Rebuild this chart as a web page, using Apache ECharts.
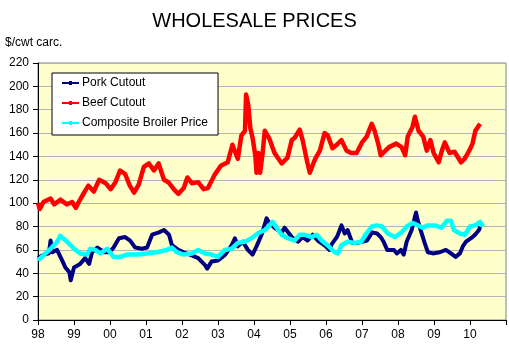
<!DOCTYPE html>
<html><head><meta charset="utf-8">
<script src="https://cdn.jsdelivr.net/npm/echarts@6/dist/echarts.min.js"></script>
<style>html,body{margin:0;padding:0;background:#fff}#c{width:509px;height:357px}</style>
</head><body><div id="c"></div>
<script>
var title = 'WHOLESALE PRICES';
var yAxisTitle = '$/cwt carc.';
var seriesNames = ['Pork Cutout', 'Beef Cutout', 'Composite Broiler Price'];
var yTicks = [0, 20, 40, 60, 80, 100, 120, 140, 160, 180, 200, 220];
var xTickYears = [1998, 1999, 2000, 2001, 2002, 2003, 2004, 2005, 2006, 2007, 2008, 2009, 2010];

var beefYears = [1998.00,1998.05,1998.15,1998.35,1998.45,1998.62,1998.8,1998.95,1999.05,1999.15,1999.3,1999.4,1999.55,1999.7,1999.88,2000.02,2000.15,2000.28,2000.42,2000.55,2000.67,2000.8,2000.94,2001.08,2001.22,2001.35,2001.5,2001.62,2001.8,2001.9,2002.05,2002.15,2002.28,2002.45,2002.6,2002.72,2002.9,2003.08,2003.27,2003.4,2003.55,2003.65,2003.75,2003.78,2003.84,2003.9,2003.96,2004.04,2004.07,2004.12,2004.17,2004.24,2004.3,2004.43,2004.57,2004.77,2004.93,2005.05,2005.13,2005.27,2005.35,2005.48,2005.55,2005.7,2005.83,2005.96,2006.05,2006.18,2006.3,2006.43,2006.57,2006.7,2006.85,2007.0,2007.13,2007.27,2007.35,2007.45,2007.52,2007.65,2007.75,2007.95,2008.1,2008.2,2008.27,2008.4,2008.47,2008.57,2008.7,2008.8,2008.9,2008.99,2009.13,2009.22,2009.3,2009.43,2009.57,2009.75,2009.85,2009.98,2010.07,2010.15,2010.28];
var beefValues = [100,95,101,104,99,103,99,101,96,102,110,115,110,120,117,112,118,128,125,115,109,116,131,134,128,134,120,118,111,108,113,122,117,118,112,113,124,132,135,150,138,158,162,193,184,164,156,140,126,143,126,143,162,155,143,134,139,154,156,163,154,135,126,138,145,160,158,147,150,154,145,143,143,152,157,168,162,151,141,145,148,151,148,141,157,165,174,162,157,145,154,143,135,145,152,143,144,135,138,145,151,162,168];

var porkYears = [1998.0,1998.17,1998.3,1998.35,1998.4,1998.53,1998.67,1998.76,1998.87,1998.91,1999.0,1999.17,1999.31,1999.42,1999.5,1999.65,1999.84,1999.98,2000.1,2000.25,2000.42,2000.56,2000.7,2000.89,2001.03,2001.17,2001.36,2001.5,2001.64,2001.72,2001.9,2002.05,2002.22,2002.45,2002.64,2002.7,2002.82,2003.0,2003.2,2003.38,2003.47,2003.55,2003.69,2003.83,2003.96,2004.07,2004.21,2004.35,2004.43,2004.57,2004.77,2004.85,2005.05,2005.22,2005.35,2005.49,2005.63,2005.77,2005.96,2006.1,2006.16,2006.3,2006.33,2006.43,2006.52,2006.6,2006.73,2006.87,2007.0,2007.14,2007.28,2007.42,2007.52,2007.6,2007.7,2007.89,2007.97,2008.08,2008.16,2008.24,2008.38,2008.5,2008.55,2008.63,2008.74,2008.83,2008.97,2009.16,2009.33,2009.47,2009.6,2009.72,2009.8,2009.89,2010.03,2010.14,2010.25,2010.28];
var porkValues = [53,56,57,68,58,60,51,45,41,34,45,48,53,48,58,62,58,58,62,70,71,68,62,61,62,73,75,77,73,64,60,58,56,53,47,44,50,51,56,64,70,63,67,60,56,63,73,87,83,79,75,79,71,67,71,68,73,68,64,60,65,71,73,81,74,77,66,66,67,68,75,74,71,67,60,60,57,60,56,67,77,92,85,77,66,58,57,58,60,57,54,57,63,67,70,73,77,80];

var broilerYears = [1998.0,1998.17,1998.35,1998.53,1998.62,1998.81,1999.0,1999.17,1999.36,1999.45,1999.59,1999.73,1999.92,2000.1,2000.28,2000.47,2000.75,2001.03,2001.3,2001.58,2001.72,2001.86,2002.05,2002.28,2002.45,2002.64,2002.82,2003.0,2003.19,2003.38,2003.55,2003.74,2003.93,2004.1,2004.3,2004.43,2004.52,2004.63,2004.77,2004.93,2005.13,2005.27,2005.4,2005.6,2005.74,2005.88,2006.04,2006.24,2006.33,2006.43,2006.6,2006.79,2006.98,2007.12,2007.27,2007.41,2007.55,2007.72,2007.91,2008.1,2008.24,2008.41,2008.55,2008.69,2008.83,2009.02,2009.2,2009.36,2009.47,2009.55,2009.72,2009.86,2010.0,2010.14,2010.28,2010.36];
var broilerValues = [51,56,61,67,72,67,61,57,56,61,60,57,61,54,54,56,56,57,58,60,62,58,56,57,60,57,56,54,60,61,66,67,70,74,77,81,84,79,73,70,68,73,73,71,73,68,64,58,57,64,67,66,67,74,80,81,80,74,71,75,80,83,81,79,81,81,79,85,85,77,74,73,80,81,84,80];

function pairs(xs, ys) { return xs.map(function (x, i) { return [x, ys[i]]; }); }

var chart = echarts.init(document.getElementById('c'), null, {renderer: 'canvas'});
var font = 'Arial, "Liberation Sans", sans-serif';
chart.setOption({
  animation: false,
  backgroundColor: '#ffffff',
  textStyle: {fontFamily: font},
  title: {text: title, left: 'center', top: 6, textStyle: {fontSize: 20, fontWeight: 'normal', color: '#000', fontFamily: font}},
  graphic: [{type: 'text', left: 5, top: 37, style: {text: yAxisTitle, fontSize: 12, fill: '#000', fontFamily: font}}],
  legend: {
    orient: 'vertical', left: 52, top: 73, width: 168,
    padding: [3, 10, 5, 10], itemGap: 6, itemWidth: 17, itemHeight: 14,
    backgroundColor: '#ffffff', borderColor: '#000', borderWidth: 1, borderRadius: 0,
    textStyle: {fontSize: 12, color: '#000', fontFamily: font, padding: [0, 0, 0, -2], lineHeight: 14},
    data: seriesNames.map(function (n, i) {
      var c = ['#000080', '#FF0000', '#00FFFF'][i];
      return {name: n, icon: 'path://M0,6 L17,6 L17,8 L0,8 Z M7,5 L10,5 L10,9 L7,9 Z', itemStyle: {color: c}};
    })
  },
  grid: {left: 38, right: 3, top: 63, bottom: 37, show: true, backgroundColor: '#FFFFCC', borderColor: '#808080', borderWidth: 1, containLabel: false},
  xAxis: {
    type: 'value', min: xTickYears[0], max: 2011, interval: 1,
    axisLine: {show: true, lineStyle: {color: '#000', width: 1}},
    axisTick: {show: true, inside: false, length: 5, lineStyle: {color: '#000'}},
    splitLine: {show: false},
    axisLabel: {fontSize: 12, color: '#000', margin: 9, fontFamily: font,
      formatter: function (v) { return xTickYears.indexOf(v) >= 0 ? String(v % 100).padStart(2, '0') : ''; }}
  },
  yAxis: {
    type: 'value', min: yTicks[0], max: yTicks[yTicks.length - 1], interval: 20,
    axisLine: {show: true, lineStyle: {color: '#000', width: 1}},
    axisTick: {show: true, inside: false, length: 5, lineStyle: {color: '#000'}},
    splitLine: {show: true, lineStyle: {color: '#B4B4BE', width: 1}},
    axisLabel: {fontSize: 12, color: '#000', margin: 9, fontFamily: font}
  },
  series: [
    {name: seriesNames[0], type: 'line', data: pairs(porkYears, porkValues), symbol: 'none',
     itemStyle: {color: '#000080'}, lineStyle: {color: '#000080', width: 4, join: 'round'}},
    {name: seriesNames[1], type: 'line', data: pairs(beefYears, beefValues), symbol: 'none',
     itemStyle: {color: '#FF0000'}, lineStyle: {color: '#FF0000', width: 4.5, join: 'round'}},
    {name: seriesNames[2], type: 'line', data: pairs(broilerYears, broilerValues), symbol: 'none',
     itemStyle: {color: '#00FFFF'}, lineStyle: {color: '#00FFFF', width: 4.5, join: 'round'}}
  ]
});
</script></body></html>
